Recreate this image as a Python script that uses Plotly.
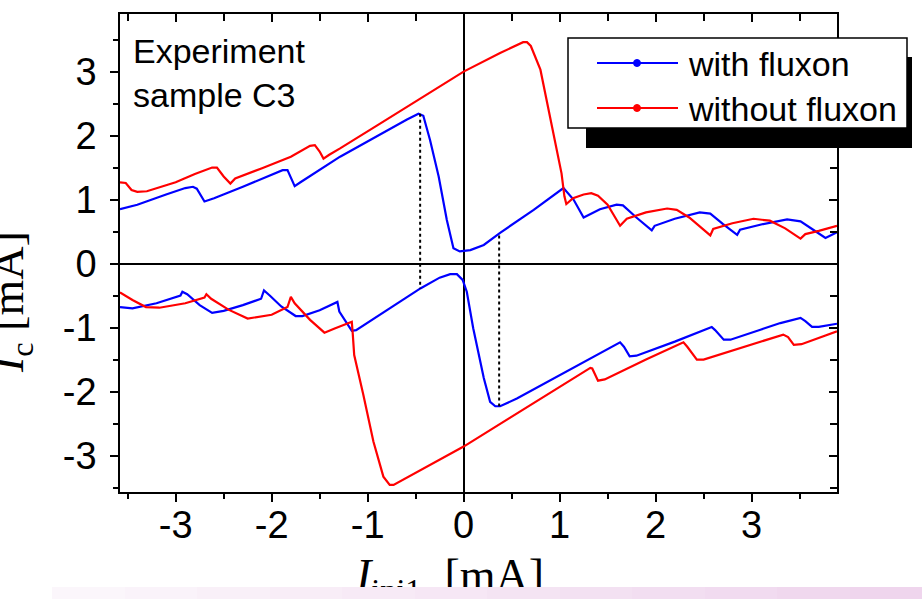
import plotly.graph_objects as go

# ---------------- data ----------------
blue_up_x = [-3.58, -3.4, -3.1, -2.9, -2.82, -2.78, -2.70, -2.6, -2.3, -2.0, -1.886, -1.835, -1.76, -1.70,
             -1.287, -0.59, -0.47, -0.42, -0.35, -0.26, -0.175, -0.106, -0.04, 0.07, 0.21, 0.38, 0.73, 1.04,
             1.145, 1.25, 1.42, 1.594, 1.66, 1.80, 1.96, 1.99, 2.2, 2.46, 2.57, 2.70, 2.85, 2.88, 3.1, 3.37,
             3.51, 3.65, 3.77, 3.89]
blue_up_y = [0.85, 0.92, 1.08, 1.18, 1.20, 1.17, 0.97, 1.02, 1.20, 1.38, 1.46, 1.46, 1.21, 1.27,
             1.67, 2.25, 2.34, 2.31, 1.93, 1.36, 0.68, 0.24, 0.19, 0.21, 0.29, 0.48, 0.84, 1.18,
             1.00, 0.72, 0.85, 0.92, 0.91, 0.72, 0.52, 0.59, 0.70, 0.80, 0.78, 0.62, 0.45, 0.53, 0.61, 0.69,
             0.66, 0.52, 0.40, 0.49]

blue_dn_x = [-3.58, -3.45, -3.2, -2.95, -2.93, -2.88, -2.75, -2.62, -2.5, -2.3, -2.11, -2.08, -2.02, -1.90,
             -1.75, -1.68, -1.5, -1.33, -1.315, -1.295, -1.165, -1.12, -0.766, -0.446, -0.25, -0.14, -0.07,
             -0.01, 0.033, 0.10, 0.21, 0.276, 0.33, 0.38, 0.555, 1.32, 1.63, 1.67, 1.73, 1.80, 2.2, 2.585,
             2.62, 2.71, 2.78, 3.1, 3.3, 3.51, 3.56, 3.63, 3.70, 3.89]
blue_dn_y = [-0.68, -0.70, -0.62, -0.50, -0.44, -0.48, -0.65, -0.77, -0.74, -0.65, -0.55, -0.42, -0.50, -0.67,
             -0.82, -0.82, -0.73, -0.62, -0.60, -0.75, -1.05, -1.04, -0.70, -0.385, -0.22, -0.166, -0.166,
             -0.255, -0.44, -1.01, -1.79, -2.16, -2.23, -2.23, -2.11, -1.49, -1.23, -1.30, -1.45, -1.44, -1.22, -0.99,
             -1.04, -1.19, -1.19, -1.03, -0.93, -0.85, -0.90, -0.99, -0.99, -0.94]

red_up_x = [-3.58, -3.52, -3.46, -3.40, -3.30, -3.0, -2.8, -2.62, -2.57, -2.50, -2.43, -2.38, -2.1, -1.8,
            -1.60, -1.55, -1.50, -1.46, -1.40, -1.287, -0.9, -0.453, 0.0, 0.38, 0.62, 0.66, 0.70, 0.80,
            0.90, 1.02, 1.05, 1.07, 1.14, 1.25, 1.33, 1.40, 1.50, 1.63, 1.70, 1.90, 2.12, 2.22, 2.35, 2.57,
            2.60, 2.80, 3.02, 3.19, 3.35, 3.51, 3.56, 3.70, 3.89]
red_up_y = [1.27, 1.26, 1.15, 1.12, 1.13, 1.27, 1.40, 1.50, 1.50, 1.36, 1.25, 1.33, 1.49, 1.67,
            1.84, 1.85, 1.75, 1.64, 1.70, 1.80, 2.16, 2.58, 3.0, 3.29, 3.46, 3.46, 3.40, 3.03,
            2.30, 1.41, 1.05, 0.93, 1.02, 1.08, 1.10, 1.06, 0.92, 0.59, 0.70, 0.80, 0.86, 0.84, 0.72, 0.44,
            0.54, 0.63, 0.70, 0.67, 0.55, 0.39, 0.46, 0.51, 0.59]

red_dn_x = [-3.58, -3.45, -3.31, -3.17, -2.9, -2.70, -2.68, -2.63, -2.45, -2.25, -2.0, -1.835, -1.80, -1.76,
            -1.6, -1.45, -1.35, -1.165, -1.155, -1.14, -1.045, -0.94, -0.836, -0.77, -0.73, 0.0, 1.32, 1.34,
            1.40, 1.47, 1.9, 2.29, 2.33, 2.43, 2.50, 2.9, 3.33, 3.38, 3.44, 3.52, 3.89]
red_dn_y = [-0.45, -0.57, -0.68, -0.69, -0.62, -0.53, -0.48, -0.55, -0.72, -0.86, -0.80, -0.68, -0.52, -0.62,
            -0.88, -1.08, -1.02, -0.91, -1.10, -1.43, -2.05, -2.78, -3.33, -3.46, -3.46, -2.86, -1.63, -1.64,
            -1.83, -1.81, -1.50, -1.23, -1.30, -1.50, -1.50, -1.31, -1.11, -1.15, -1.27, -1.26, -1.06]

dotted_x = [-0.453, 0.37]
dotted_top = [2.34, 0.44]
dotted_bottom = [-0.39, -2.23]

x_ticks = [-3, -2, -1, 0, 1, 2, 3]
y_ticks = [-3, -2, -1, 0, 1, 2, 3]
x_range = [-3.58, 3.89]
y_range = [-3.57, 3.90]

series_names = ["with fluxon", "without fluxon"]
series_colors = ["#0000ff", "#ff0000"]

# ---------------- figure ----------------
W, H = 922, 599
ML, MR, MT, MB = 120, 85, 14, 107
PW, PH = W - ML - MR, H - MT - MB


def px(x):
    return (x - ML) / PW


def py(y):
    return (H - MB - y) / PH


SANS = "Liberation Sans, Arial, sans-serif"
SERIF = "Liberation Serif, Times New Roman, serif"

fig = go.Figure()

for xs, ys, name, col in [
    (blue_up_x, blue_up_y, series_names[0], series_colors[0]),
    (blue_dn_x, blue_dn_y, series_names[0], series_colors[0]),
    (red_up_x, red_up_y, series_names[1], series_colors[1]),
    (red_dn_x, red_dn_y, series_names[1], series_colors[1]),
]:
    fig.add_trace(go.Scatter(x=xs, y=ys, mode="lines", name=name, legendgroup=name,
                             showlegend=False, line=dict(color=col, width=2.2)))

dx, dy = [], []
for xv, t, b in zip(dotted_x, dotted_top, dotted_bottom):
    dx += [xv, xv, None]
    dy += [t, b, None]
fig.add_trace(go.Scatter(x=dx, y=dy, mode="lines", showlegend=False,
                         line=dict(color="black", width=2, dash="dot")))

# helper traces to activate the mirrored (inside-tick) axes
fig.add_trace(go.Scatter(x=[None], y=[None], xaxis="x2", yaxis="y", showlegend=False))
fig.add_trace(go.Scatter(x=[None], y=[None], xaxis="x", yaxis="y2", showlegend=False))

common_main = dict(showgrid=False, zeroline=True, zerolinecolor="black", zerolinewidth=1.5,
                   showline=True, linecolor="black", linewidth=1.5, mirror=True,
                   ticks="outside", ticklen=8, tickwidth=1.5, tickcolor="black",
                   tickfont=dict(family=SANS, size=38, color="black"),
                   minor=dict(dtick=0.5, tick0=0, ticks="outside", ticklen=5,
                              tickwidth=1.5, tickcolor="black"))
common_mirror = dict(showgrid=False, zeroline=False, showline=False, showticklabels=False,
                     ticks="inside", ticklen=8, tickwidth=1.5, tickcolor="black",
                     minor=dict(dtick=0.5, tick0=0, ticks="inside", ticklen=7,
                                tickwidth=1.5, tickcolor="black"))

fig.update_layout(
    width=W, height=H, autosize=False,
    margin=dict(l=ML, r=MR, t=MT, b=MB),
    paper_bgcolor="white", plot_bgcolor="white",
    showlegend=False,
    xaxis=dict(range=x_range, tickvals=x_ticks, ticktext=[str(v) for v in x_ticks],
               ticklabelstandoff=-9, **common_main),
    yaxis=dict(range=y_range, tickvals=y_ticks, ticktext=[str(v) for v in y_ticks],
               ticklabelstandoff=6, **common_main),
    xaxis2=dict(range=x_range, overlaying="x", side="top", anchor="y", tickvals=x_ticks, **common_mirror),
    yaxis2=dict(range=y_range, overlaying="y", side="right", anchor="x", tickvals=y_ticks, **common_mirror),
)

shapes = []
annotations = []

# legend shadow and box
shapes.append(dict(type="rect", xref="paper", yref="paper", layer="above",
                   x0=px(586), x1=px(912), y0=py(148), y1=py(57),
                   fillcolor="black", line=dict(width=0)))
shapes.append(dict(type="rect", xref="paper", yref="paper", layer="above",
                   x0=px(568), x1=px(907), y0=py(128), y1=py(38),
                   fillcolor="white", line=dict(color="black", width=1.5)))
for i, (name, col) in enumerate(zip(series_names, series_colors)):
    ly = 63 + 45 * i
    shapes.append(dict(type="line", xref="paper", yref="paper", layer="above",
                       x0=px(597), x1=px(678), y0=py(ly), y1=py(ly),
                       line=dict(color=col, width=2)))
    shapes.append(dict(type="circle", xref="paper", yref="paper", layer="above",
                       x0=px(633.5), x1=px(640.5), y0=py(ly + 3.5), y1=py(ly - 3.5),
                       fillcolor=col, line=dict(color=col, width=1)))
    annotations.append(dict(text=name, xref="paper", yref="paper", x=px(686), y=py(ly + 1),
                            xanchor="left", yanchor="middle", showarrow=False,
                            font=dict(family=SANS, size=34, color="black")))

# inset label
annotations.append(dict(text="Experiment<br>sample C3", xref="paper", yref="paper",
                        x=px(131), y=py(30), xanchor="left", yanchor="top", align="left",
                        showarrow=False, font=dict(family=SANS, size=34, color="black")))

# axis titles
annotations.append(dict(text="<i>I</i><sub>c</sub>\u00a0[mA]", xref="paper", yref="paper",
                        x=px(11), y=py(302), xanchor="center", yanchor="middle", textangle=-90,
                        showarrow=False, font=dict(family=SERIF, size=46, color="black")))
annotations.append(dict(text="<i>I</i><sub>inj1</sub>\u00a0\u00a0[mA]", xref="paper", yref="paper",
                        x=px(449), y=py(548), xanchor="center", yanchor="top",
                        showarrow=False, font=dict(family=SERIF, size=46, color="black")))

# bottom pink band (slide background), drawn after the title so it covers it
N = 12
x_start, x_end = 52, 922
c0 = (251, 246, 251)
c1 = (239, 213, 237)
seg = (x_end - x_start) / N
for i in range(N):
    t = i / (N - 1)
    col = tuple(round(c0[k] + (c1[k] - c0[k]) * t) for k in range(3))
    annotations.append(dict(text="\u00a0", xref="paper", yref="paper",
                            x=px(x_start + seg * i), y=py(H),
                            xanchor="left", yanchor="bottom", showarrow=False,
                            width=seg + 1, height=12, borderpad=0, borderwidth=0,
                            bgcolor="rgb(%d,%d,%d)" % col,
                            font=dict(family=SANS, size=8, color="rgb(%d,%d,%d)" % col)))

fig.update_layout(shapes=shapes, annotations=annotations)

fig.write_html("out.html", include_plotlyjs=True, config={"displayModeBar": False},
               post_script="document.body.style.margin='0';document.body.style.overflow='hidden';")
